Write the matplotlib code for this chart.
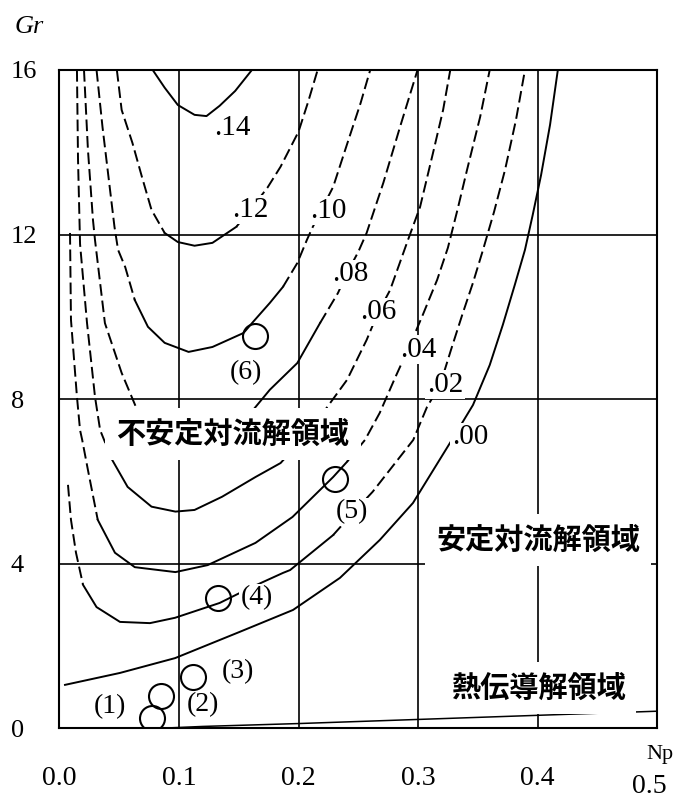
import matplotlib
matplotlib.use('Agg')
import matplotlib.pyplot as plt
from matplotlib.transforms import ScaledTranslation

# contour curves (Np, Gr)
np_14 = [0.078, 0.088, 0.099, 0.113, 0.123, 0.134, 0.147, 0.161]
gr_14 = [16.0, 15.57, 15.15, 14.91, 14.88, 15.13, 15.49, 16.0]

np_12 = [0.048, 0.052, 0.061, 0.069, 0.077, 0.088, 0.099, 0.113, 0.128, 0.148,
         0.161, 0.174, 0.185, 0.200, 0.208, 0.216]
gr_12 = [16.0, 15.03, 14.23, 13.40, 12.60, 12.04, 11.82, 11.73, 11.80, 12.19,
         12.65, 13.14, 13.65, 14.50, 15.22, 16.0]

np_10 = [0.031, 0.036, 0.041, 0.046, 0.049, 0.055, 0.063, 0.074, 0.088, 0.108,
         0.128, 0.154, 0.162, 0.176, 0.187, 0.199, 0.207, 0.212, 0.229, 0.241,
         0.252, 0.260]
gr_10 = [16.0, 14.61, 13.40, 12.19, 11.63, 11.21, 10.41, 9.76, 9.37, 9.15,
         9.27, 9.61, 9.88, 10.34, 10.73, 11.31, 11.87, 12.19, 13.16, 14.23,
         15.20, 16.0]

np_08 = [0.0205, 0.0238, 0.028, 0.0297, 0.038, 0.052, 0.065, 0.084, 0.113, 0.138,
         0.162, 0.176, 0.199, 0.218, 0.233, 0.241, 0.250, 0.257, 0.271, 0.285, 0.2996]
gr_08 = [16.0, 14.06, 12.36, 11.87, 9.85, 8.64, 7.74, 7.21, 7.01, 7.21,
         7.74, 8.23, 8.88, 9.85, 10.58, 11.09, 11.58, 12.04, 13.26, 14.62, 16.0]

np_06 = [0.0146, 0.0155, 0.0172, 0.023, 0.0297, 0.034, 0.039, 0.044, 0.057, 0.077,
         0.097, 0.113, 0.136, 0.164, 0.185, 0.201, 0.2205, 0.2406, 0.257, 0.2665,
         0.2766, 0.2916, 0.3017, 0.3126, 0.321, 0.327]
gr_06 = [16.0, 13.82, 11.77, 9.86, 8.06, 7.25, 6.89, 6.53, 5.87, 5.39,
         5.27, 5.31, 5.63, 6.11, 6.45, 6.96, 7.67, 8.47, 9.44, 10.10,
         10.65, 11.87, 12.67, 13.99, 15.03, 16.0]

np_04 = [0.0088, 0.0096, 0.0146, 0.0172, 0.019, 0.0238, 0.032, 0.0464, 0.063, 0.097,
         0.124, 0.164, 0.195, 0.229, 0.2406, 0.2556, 0.268, 0.2808, 0.2933, 0.304,
         0.316, 0.325, 0.333, 0.341, 0.352, 0.360]
gr_04 = [12.04, 9.93, 8.06, 7.25, 7.01, 6.28, 5.07, 4.27, 3.92, 3.80,
         3.97, 4.51, 5.14, 6.11, 6.48, 7.01, 7.67, 8.52, 9.32, 10.05,
         10.90, 11.68, 12.60, 13.57, 14.86, 16.0]

np_02 = [0.0071, 0.0096, 0.0138, 0.0197, 0.031, 0.0506, 0.0757, 0.0967, 0.134, 0.159,
         0.187, 0.193, 0.229, 0.2456, 0.262, 0.296, 0.3075, 0.3185, 0.3276, 0.337,
         0.346, 0.3544, 0.3636, 0.3728, 0.382, 0.3895]
gr_02 = [5.92, 5.07, 4.27, 3.49, 2.95, 2.59, 2.56, 2.69, 3.05, 3.41,
         3.78, 3.85, 4.70, 5.24, 5.75, 7.01, 7.81, 8.35, 9.20, 10.05,
         10.83, 11.63, 12.55, 13.57, 14.79, 16.0]

np_00 = [0.0046, 0.0506, 0.0967, 0.151, 0.1954, 0.2347, 0.268, 0.2958, 0.3268, 0.346,
         0.360, 0.371, 0.381, 0.3895, 0.396, 0.403, 0.4105, 0.417]
gr_00 = [1.06, 1.35, 1.71, 2.35, 2.88, 3.66, 4.58, 5.48, 6.94, 7.86,
         8.83, 9.81, 10.78, 11.63, 12.48, 13.45, 14.67, 16.0]

# boundary of the conduction region, near Gr = 0
np_cond = [0.08, 0.12, 0.2, 0.3, 0.4, 0.5]
gr_cond = [0.0, 0.05, 0.12, 0.22, 0.32, 0.42]

levels = ['.14', '.12', '.10', '.08', '.06', '.04', '.02', '.00']
label_np = [0.145, 0.160, 0.2247, 0.243, 0.2665, 0.300, 0.3226, 0.3435]
label_gr = [14.6, 12.6, 12.58, 11.04, 10.12, 9.2, 8.35, 7.08]
# Np range of the solid part of each curve (the rest is dashed)
solid_lo = [0.0, 0.084, 0.063, 0.10, 0.038, 0.030, 0.018, 0.0]
solid_hi = [1.0, 0.150, 0.190, 0.21, 0.205, 0.245, 0.235, 1.0]

# experiment points
pt_names = ['(1)', '(2)', '(3)', '(4)', '(5)', '(6)']
pt_np = [0.077, 0.085, 0.112, 0.1326, 0.2305, 0.1636]
pt_gr = [0.25, 0.79, 1.26, 3.17, 6.06, 9.54]
pt_lab_np = [0.042, 0.120, 0.1494, 0.165, 0.245, 0.156]
pt_lab_gr = [0.52, 0.57, 1.37, 3.17, 5.26, 8.64]

regions = ['不安定対流解領域', '安定対流解領域', '熱伝導解領域']
region_np = [0.1452, 0.4004, 0.4004]
region_gr = [7.16, 4.58, 0.98]

curves = [(np_14, gr_14), (np_12, gr_12), (np_10, gr_10), (np_08, gr_08),
          (np_06, gr_06), (np_04, gr_04), (np_02, gr_02), (np_00, gr_00)]

serif = 'Liberation Serif'
cjk = ['Noto Sans CJK JP', 'DejaVu Sans']


def draw_curve(ax, xs, ys, lo, hi):
    # split the polyline into solid / dashed runs
    runs = []
    for i in range(len(xs) - 1):
        mid = 0.5 * (xs[i] + xs[i + 1])
        solid = lo <= mid <= hi
        if runs and runs[-1][0] == solid:
            runs[-1][1].append(i + 1)
        else:
            runs.append([solid, [i, i + 1]])
    for solid, idx in runs:
        ax.plot([xs[j] for j in idx], [ys[j] for j in idx], color='black', lw=1.4,
                linestyle='-' if solid else (0, (6, 2.5)), zorder=2)


fig = plt.figure(figsize=(6.8, 7.98), dpi=100)
ax = fig.add_axes([0.0875, 0.0871, 0.8787, 0.8252])
ax.set_xlim(0, 0.5)
ax.set_ylim(0, 16)

ax.set_xticks([0.0, 0.1, 0.2, 0.3, 0.4, 0.5])
ax.set_xticklabels(['0.0', '0.1', '0.2', '0.3', '0.4', '0.5'], family=serif, fontsize=20)
ax.set_yticks([0, 4, 8, 12, 16])
ax.set_yticklabels(['0', '4', '8', '12', '16'], family=serif, fontsize=19)
ax.tick_params(length=0)
ax.tick_params(axis='x', pad=27)
ax.tick_params(axis='y', pad=35)
for lbl in ax.get_yticklabels():
    lbl.set_horizontalalignment('left')
last = ax.xaxis.get_major_ticks()[-1].label1
last.set_transform(last.get_transform() + ScaledTranslation(-0.08, -0.08, fig.dpi_scale_trans))

ax.set_axisbelow(True)
ax.grid(True, color='black', lw=1.2)
for s in ax.spines.values():
    s.set_linewidth(1.5)

for (xs, ys), lo, hi in zip(curves, solid_lo, solid_hi):
    draw_curve(ax, xs, ys, lo, hi)
ax.plot(np_cond, gr_cond, color='black', lw=1.1, zorder=2)

for name, x, y in zip(levels, label_np, label_gr):
    ax.text(x, y, name, family=serif, fontsize=21, ha='center', va='center', zorder=3,
            bbox=dict(facecolor='white', edgecolor='none', pad=1))

ax.plot(pt_np, pt_gr, 'o', ms=18, mfc='none', mec='black', mew=1.5, zorder=4)
for name, x, y in zip(pt_names, pt_lab_np, pt_lab_gr):
    ax.text(x, y, name, family=serif, fontsize=20, ha='center', va='center', zorder=3,
            bbox=dict(facecolor='white', edgecolor='none', pad=1))

for name, x, y in zip(regions, region_np, region_gr):
    ax.text(x, y, name, family=cjk, fontsize=21, fontweight='bold', ha='center',
            va='center', zorder=3, bbox=dict(facecolor='white', edgecolor='none', pad=8))

ax.text(-0.051, 1.065, 'Gr', transform=ax.transAxes, family=serif, style='italic',
        fontsize=19, ha='center', va='center')
ax.text(1.005, -0.040, 'Np', transform=ax.transAxes, family=serif, fontsize=16,
        ha='center', va='center')

fig.savefig('out.png', dpi=100)
